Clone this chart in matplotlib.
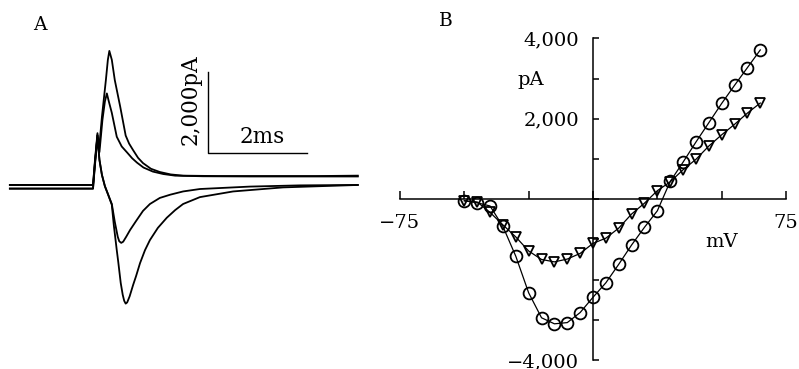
import matplotlib
matplotlib.use("Agg")
from matplotlib import pyplot as plt

plt.rcParams['font.family'] = ['DejaVu Serif']
plt.rcParams['axes.unicode_minus'] = True

# ***** Panel A: current traces (time in ms, current in pA) *****#
t_out1 = [-1.70, -0.02, 0.02, 0.07, 0.10, 0.16, 0.24, 0.28, 0.31, 0.36, 0.42, 0.53, 0.64,
          0.71, 0.79, 0.89, 0.99, 1.15, 1.33, 1.55, 1.80, 2.50, 3.50, 4.50, 5.33]
pA_out1 = [50, 50, 670, 1330, 910, 1730, 2640, 3140, 3360, 3140, 2640, 1980, 1270,
           1070, 910, 720, 590, 450, 370, 310, 280, 270, 270, 270, 280]

t_out2 = [-1.70, -0.02, 0.02, 0.07, 0.11, 0.17, 0.22, 0.26, 0.30, 0.36, 0.46, 0.56, 0.67,
          0.77, 0.87, 1.00, 1.19, 1.40, 1.64, 2.20, 3.15, 5.33]
pA_out2 = [50, 50, 620, 1280, 860, 1650, 2110, 2310, 2110, 1830, 1240, 1000, 850,
           710, 600, 480, 380, 320, 280, 265, 260, 260]

t_in1 = [-1.70, -0.02, 0.02, 0.07, 0.11, 0.16, 0.22, 0.28, 0.36, 0.42, 0.48, 0.51, 0.55,
         0.59, 0.65, 0.73, 0.85, 0.99, 1.13, 1.33, 1.54, 1.80, 2.14, 3.15, 4.16, 5.33]
pA_in1 = [-40, -40, 540, 1280, 670, 300, 20, -170, -420, -860, -1230, -1340, -1380,
          -1350, -1230, -1060, -840, -590, -420, -270, -190, -110, -50, 10, 40, 50]

t_in2 = [-1.70, -0.02, 0.02, 0.07, 0.11, 0.16, 0.22, 0.28, 0.36, 0.40, 0.46, 0.49, 0.54,
         0.58, 0.61, 0.64, 0.67, 0.72, 0.79, 0.85, 0.93, 1.03, 1.13, 1.29, 1.47, 1.64, 1.80,
         2.14, 2.81, 3.82, 4.57, 5.33]
pA_in2 = [-40, -40, 600, 1210, 670, 300, 20, -170, -440, -940, -1560, -1850, -2370,
          -2660, -2810, -2880, -2850, -2700, -2420, -2200, -1880, -1560, -1310, -1010, -760,
          -570, -420, -250, -110, -10, 20, 50]

# scale bar (ms, pA)
bar_t = [2.31, 2.31, 4.31]
bar_pA = [2850, 850, 850]

# ***** Panel B: I-V relation *****#
mV = [-50, -45, -40, -35, -30, -25, -20, -15, -10, -5, 0, 5, 10, 15, 20, 25, 30, 35,
      40, 45, 50, 55, 60, 65]
circle_pA = [-40, -90, -170, -680, -1420, -2330, -2950, -3100, -3070, -2820, -2440, -2080,
             -1620, -1140, -700, -290, 440, 920, 1420, 1900, 2380, 2830, 3270, 3710]
triangle_pA = [-40, -70, -330, -640, -940, -1290, -1500, -1560, -1490, -1350, -1100, -970,
               -720, -370, -100, 210, 430, 730, 990, 1320, 1600, 1860, 2140, 2390]

x_ticks = [-75, -50, -25, 0, 25, 50, 75]
x_labels = ['\u221275', '', '', '', '', '', '75']
y_ticks = [-4000, -3000, -2000, -1000, 0, 1000, 2000, 3000, 4000]
y_labels = ['\u22124,000', '', '', '', '', '', '2,000', '', '4,000']

fig = plt.figure(figsize=(7.99, 3.69), dpi=100)

# panel A
axA = fig.add_axes([0, 0, 400 / 799, 1])
axA.set_xlim(-1.899, 6.182)
axA.set_ylim(-4494, 4617)
axA.axis('off')
for t, p in [(t_out1, pA_out1), (t_out2, pA_out2), (t_in1, pA_in1), (t_in2, pA_in2)]:
    axA.plot(t, p, color='black', lw=1.3, solid_joinstyle='round')
axA.plot(bar_t, bar_pA, color='black', lw=1.0)
axA.text(1.95, 2150, '2,000pA', rotation=90, ha='center', va='center', fontsize=15.5)
axA.text(3.4, 1240, '2ms', ha='center', va='center', fontsize=15.5)
fig.text(40 / 799, 1 - 25 / 369, 'A', ha='center', va='center', fontsize=13.5)

# panel B
axB = fig.add_axes([400 / 799, 9 / 369, 386 / 799, 321.7 / 369])
axB.set_xlim(-75, 75)
axB.set_ylim(-4000, 4000)
axB.patch.set_visible(False)
axB.spines['left'].set_position(('data', 0))
axB.spines['bottom'].set_position(('data', 0))
axB.spines['top'].set_visible(False)
axB.spines['right'].set_visible(False)
axB.spines['left'].set_linewidth(1.1)
axB.spines['bottom'].set_linewidth(1.1)
axB.set_xticks(x_ticks)
axB.set_xticklabels(x_labels)
axB.set_yticks(y_ticks)
axB.set_yticklabels(y_labels)
axB.tick_params(axis='x', direction='in', length=6, width=1.1, pad=11, labelsize=14)
axB.tick_params(axis='y', direction='in', length=4.5, width=1.1, pad=10, labelsize=14)

axB.plot(mV, circle_pA, color='black', lw=0.9, marker='o', ms=8.5,
         mfc='none', mec='black', mew=1.3, clip_on=False)
axB.plot(mV, triangle_pA, color='black', lw=0.9, marker='v', ms=7,
         mfc='none', mec='black', mew=1.3, clip_on=False)

axB.text(-24, 2970, 'pA', ha='center', va='center', fontsize=14)
axB.text(50, -1070, 'mV', ha='center', va='center', fontsize=14)
fig.text(445.5 / 799, 1 - 20.5 / 369, 'B', ha='center', va='center', fontsize=13.5)

plt.savefig('out.png', dpi=100)
